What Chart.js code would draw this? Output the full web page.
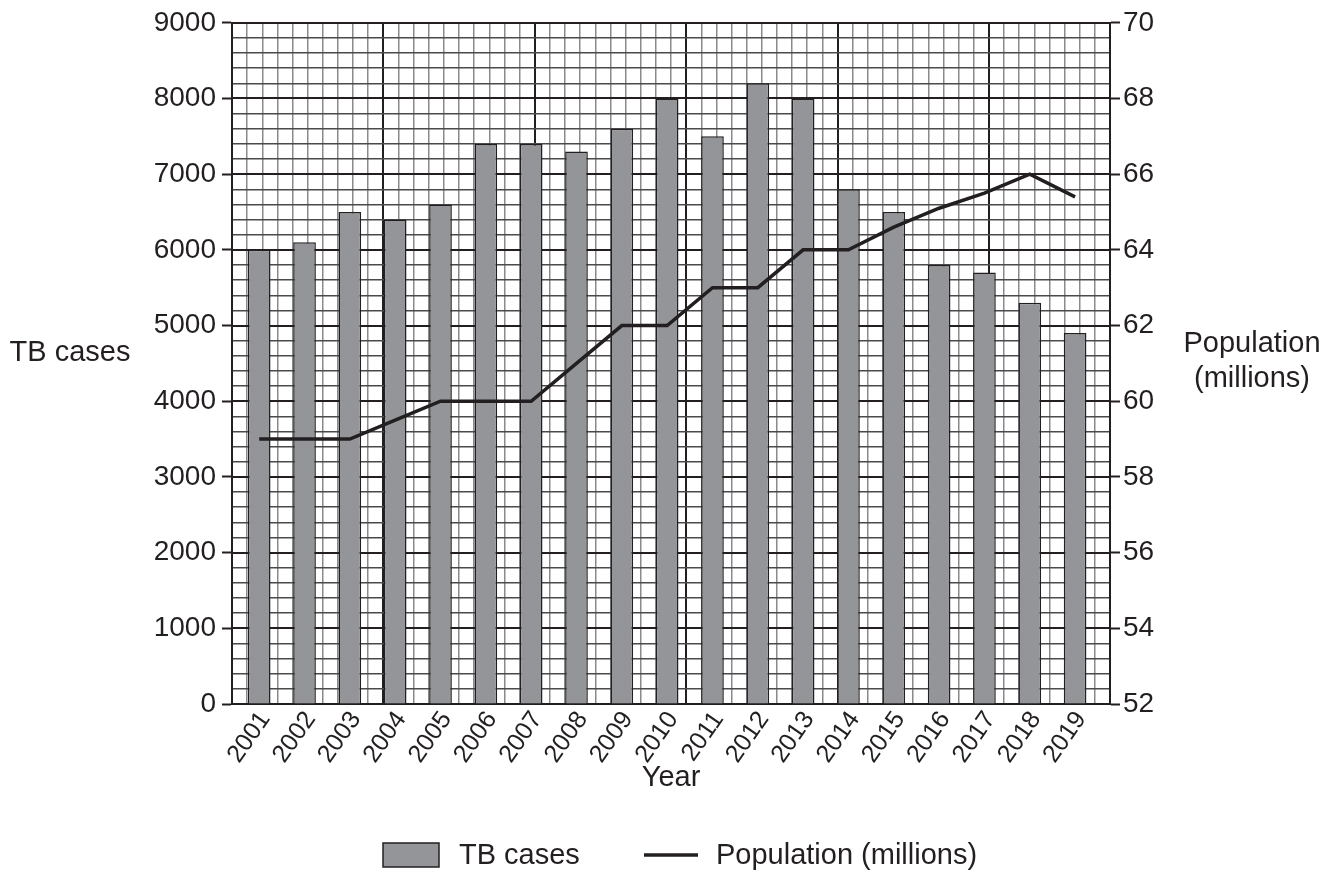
<!DOCTYPE html>
<html>
<head>
<meta charset="utf-8">
<title>TB cases and population</title>
<script src="https://cdn.jsdelivr.net/npm/chart.js@4.4.1/dist/chart.umd.min.js"></script>
<style>
  html, body { margin: 0; padding: 0; background: #ffffff; }
  #grafica { display: block; }
</style>
</head>
<body>
<canvas id="grafica" width="1338" height="876"></canvas>
<script>
// 1. Data
const years = [2001, 2002, 2003, 2004, 2005, 2006, 2007, 2008, 2009, 2010,
               2011, 2012, 2013, 2014, 2015, 2016, 2017, 2018, 2019];
const tbCases = [6000, 6100, 6500, 6400, 6600, 7400, 7400, 7300, 7600, 8000,
                 7500, 8200, 8000, 6800, 6500, 5800, 5700, 5300, 4900];
const population = [59, 59, 59, 59.5, 60, 60, 60, 61, 62, 62,
                    63, 63, 64, 64, 64.6, 65.1, 65.5, 66, 65.4];
const casesTicks = [0, 1000, 2000, 3000, 4000, 5000, 6000, 7000, 8000, 9000];
const populationTicks = [52, 54, 56, 58, 60, 62, 64, 66, 68, 70];

// 2. Look of the chart
const ink = '#231f20';
const barGrey = '#939598';
const fontName = '"Liberation Sans", Arial, sans-serif';
const tickFont = { family: fontName, size: 28 };
const yearFont = { family: fontName, size: 25 };

// Titles and legend are drawn by hand so they stay horizontal
const textPlugin = {
    id: 'textos',
    afterDraw(chart) {
        const ctx = chart.ctx;
        const area = chart.chartArea;
        ctx.save();
        ctx.fillStyle = ink;
        ctx.font = '29px ' + fontName;
        ctx.textBaseline = 'middle';
        ctx.textAlign = 'center';

        ctx.fillText('TB cases', 70, 353);
        ctx.fillText('Population', 1252, 344);
        ctx.fillText('(millions)', 1252, 379);
        ctx.fillText('Year', (area.left + area.right) / 2, 778);

        // legend
        ctx.fillStyle = barGrey;
        ctx.fillRect(383, 843, 56, 24);
        ctx.strokeStyle = ink;
        ctx.lineWidth = 1.5;
        ctx.strokeRect(383, 843, 56, 24);

        ctx.fillStyle = ink;
        ctx.textAlign = 'left';
        ctx.fillText('TB cases', 459, 856);

        ctx.beginPath();
        ctx.lineWidth = 3.5;
        ctx.moveTo(644, 855);
        ctx.lineTo(698, 855);
        ctx.stroke();

        ctx.fillText('Population (millions)', 716, 856);
        ctx.restore();
    }
};

// 3. Build the chart
const lienzo = document.getElementById('grafica').getContext('2d');

new Chart(lienzo, {
    data: {
        datasets: [
            {
                type: 'line',
                label: 'Population (millions)',
                data: years.map((y, i) => ({ x: y, y: population[i] })),
                xAxisID: 'x',
                yAxisID: 'y2',
                borderColor: ink,
                borderWidth: 3.5,
                pointRadius: 0,
                tension: 0,
                order: 0
            },
            {
                type: 'bar',
                label: 'TB cases',
                data: years.map((y, i) => ({ x: y, y: tbCases[i] })),
                xAxisID: 'x',
                yAxisID: 'y',
                backgroundColor: barGrey,
                borderColor: ink,
                borderWidth: 1.5,
                borderSkipped: 'bottom',
                barPercentage: 0.5,
                categoryPercentage: 1,
                order: 1
            }
        ]
    },
    options: {
        responsive: false,
        animation: false,
        devicePixelRatio: 1,
        layout: { padding: { top: 22, left: 0, right: 0, bottom: 0 } },
        plugins: {
            legend: { display: false },
            tooltip: { enabled: false }
        },
        scales: {
            x: {
                type: 'linear',
                position: 'bottom',
                offset: false,
                min: 2000.4,
                max: 2019.77,
                afterBuildTicks: (scale) => { scale.ticks = years.map(v => ({ value: v })); },
                afterFit: (scale) => { scale.height = 172; },
                grid: { display: false, drawTicks: false },
                border: { display: true, color: ink, width: 2 },
                ticks: {
                    color: ink,
                    font: yearFont,
                    autoSkip: false,
                    minRotation: 55,
                    maxRotation: 55,
                    padding: 2,
                    labelOffset: 6,
                    callback: (value) => String(value)
                }
            },
            gridX: {
                type: 'linear',
                position: 'top',
                min: 0,
                max: 58,
                afterBuildTicks: (scale) => {
                    const marcas = [];
                    for (let v = 0; v <= 58; v++) marcas.push({ value: v });
                    scale.ticks = marcas;
                },
                afterFit: (scale) => { scale.height = 0; },
                border: { display: false },
                ticks: { display: false },
                grid: {
                    drawTicks: false,
                    color: (c) => c.tick.value % 10 === 0 ? ink : '#8a8a8c',
                    lineWidth: (c) => c.tick.value % 10 === 0 ? 2 : 1.5
                }
            },
            y: {
                type: 'linear',
                position: 'left',
                min: 0,
                max: 9000,
                afterBuildTicks: (scale) => { scale.ticks = casesTicks.map(v => ({ value: v })); },
                afterFit: (scale) => { scale.width = 232; },
                border: { display: true, color: ink, width: 2 },
                grid: {
                    drawOnChartArea: false,
                    drawTicks: true,
                    tickLength: 10,
                    tickColor: ink,
                    tickWidth: 2
                },
                ticks: {
                    color: ink,
                    font: tickFont,
                    padding: 6,
                    callback: (value) => String(value)
                }
            },
            gridY: {
                type: 'linear',
                position: 'left',
                min: 0,
                max: 45,
                afterBuildTicks: (scale) => {
                    const marcas = [];
                    for (let v = 0; v <= 45; v++) marcas.push({ value: v });
                    scale.ticks = marcas;
                },
                afterFit: (scale) => { scale.width = 0; },
                border: { display: false },
                ticks: { display: false },
                grid: {
                    drawTicks: false,
                    color: (c) => c.tick.value % 5 === 0 ? ink : '#4a4a4c',
                    lineWidth: (c) => c.tick.value % 5 === 0 ? 2 : 1.5
                }
            },
            y2: {
                type: 'linear',
                position: 'right',
                min: 52,
                max: 70,
                afterBuildTicks: (scale) => { scale.ticks = populationTicks.map(v => ({ value: v })); },
                afterFit: (scale) => { scale.width = 228; },
                border: { display: true, color: ink, width: 2 },
                grid: {
                    drawOnChartArea: false,
                    drawTicks: true,
                    tickLength: 10,
                    tickColor: ink,
                    tickWidth: 2
                },
                ticks: {
                    color: ink,
                    font: tickFont,
                    padding: 3,
                    callback: (value) => String(value)
                }
            }
        }
    },
    plugins: [textPlugin]
});
</script>
</body>
</html>
